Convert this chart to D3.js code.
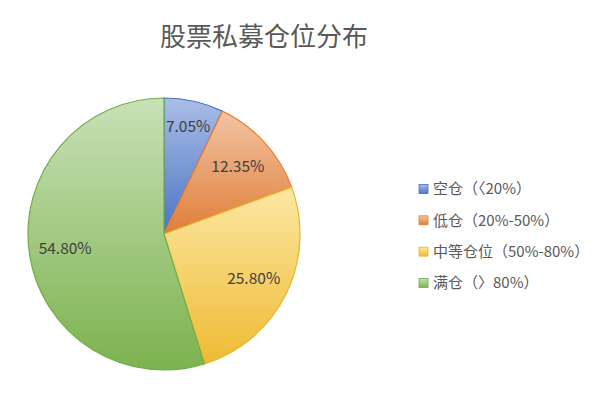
<!DOCTYPE html>
<html>
<head>
<meta charset="utf-8">
<script src="https://cdn.jsdelivr.net/npm/d3@7"></script>
<style>
  body { margin: 0; background: #fff; }
  text { font-family: "Noto Sans CJK SC", "Noto Sans", sans-serif; }
</style>
</head>
<body>
<svg width="600" height="403"></svg>
<script>
// data
var categories = ['空仓（〈20%）', '低仓（20%-50%）', '中等仓位（50%-80%）', '满仓（〉80%）'];
var shares = [7.05, 12.35, 25.80, 54.80];
var labels = ['7.05%', '12.35%', '25.80%', '54.80%'];

var topColors = ['#aabde6', '#f2c4a4', '#fde7a3', '#c8e1b7'];
var bottomColors = ['#4a74c4', '#e07e38', '#eebb33', '#7cb24e'];
var edgeColors = ['#4472c4', '#ed7d31', '#e8b52c', '#70ad47'];

var svg = d3.select('svg');
var cx = 164, cy = 234, r = 136;

svg.append('text')
  .attr('x', 264)
  .attr('y', 46)
  .attr('text-anchor', 'middle')
  .attr('font-size', 26)
  .attr('fill', '#595959')
  .text('股票私募仓位分布');

var defs = svg.append('defs');
shares.forEach(function(d, i) {
  var g = defs.append('linearGradient')
    .attr('id', 'grad' + i)
    .attr('x1', 0).attr('y1', 0).attr('x2', 0).attr('y2', 1);
  g.append('stop').attr('offset', '0%').attr('stop-color', topColors[i]);
  g.append('stop').attr('offset', '100%').attr('stop-color', bottomColors[i]);
});

var pie = d3.pie().sort(null).value(function(d) { return d; });
var arcs = pie(shares);
var arc = d3.arc().innerRadius(0).outerRadius(r);

var g = svg.append('g').attr('transform', 'translate(' + cx + ',' + cy + ')');

g.selectAll('path')
  .data(arcs)
  .enter()
  .append('path')
  .attr('d', arc)
  .attr('fill', function(d, i) { return 'url(#grad' + i + ')'; })
  .attr('stroke', function(d, i) { return edgeColors[i]; })
  .attr('stroke-width', 1.2);

// labels sit inside the slices, a bit further out for thin ones
g.selectAll('text.lbl')
  .data(arcs)
  .enter()
  .append('text')
  .attr('class', 'lbl')
  .attr('transform', function(d) {
    var a = (d.startAngle + d.endAngle) / 2;
    var rr = (d.endAngle - d.startAngle) < 0.6 ? 110 : 100;
    return 'translate(' + (Math.sin(a) * rr) + ',' + (-Math.cos(a) * rr) + ')';
  })
  .attr('text-anchor', 'middle')
  .attr('dy', '0.35em')
  .attr('font-size', 15.5)
  .attr('fill', '#404040')
  .text(function(d, i) { return labels[i]; });

// legend
var legend = svg.append('g').attr('transform', 'translate(419,189)');
var rowY = d3.scalePoint().domain(d3.range(categories.length)).range([0, 94]);

var item = legend.selectAll('g')
  .data(categories)
  .enter()
  .append('g')
  .attr('transform', function(d, i) { return 'translate(0,' + rowY(i) + ')'; });

item.append('rect')
  .attr('x', 0).attr('y', -4.5)
  .attr('width', 9).attr('height', 9)
  .attr('fill', function(d, i) { return 'url(#grad' + i + ')'; })
  .attr('stroke', function(d, i) { return edgeColors[i]; })
  .attr('stroke-width', 0.8);

item.append('text')
  .attr('x', 14)
  .attr('dy', '0.36em')
  .attr('font-size', 15)
  .attr('fill', '#595959')
  .text(function(d) { return d; });
</script>
</body>
</html>
